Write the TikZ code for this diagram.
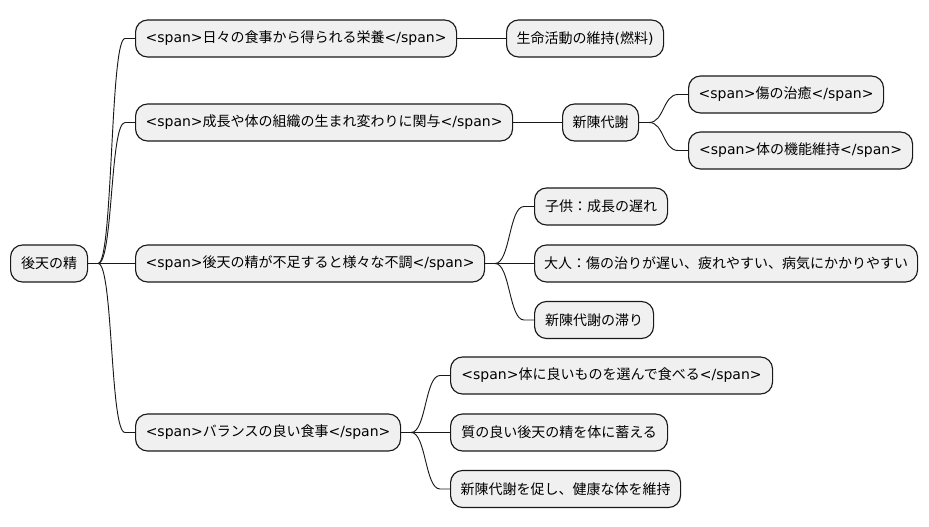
\documentclass[tikz,border=0pt]{standalone}
\usepackage{fontspec}
\setmainfont{Noto Sans CJK JP}
\newfontfamily\latf{DejaVu Sans}
\newcommand\sO{{\latf <span>}}
\newcommand\sC{{\latf </span>}}
\usetikzlibrary{calc}
\tikzset{
  mmbox/.style={draw=black!90, fill=black!6, line width=0.85pt, rounded corners=9pt,
    minimum height=27.75pt, inner sep=0pt, anchor=west, font=\fontsize{10.5pt}{12pt}\selectfont},
  link/.style={draw=black!90, line width=0.7pt}
}
\newcommand\mmlink[2]{\draw[link] (#1.east) -- ++(10,0) .. controls +(15,0) and +(-15,0) .. ($(#2.west)+(-10,0)$) -- (#2.west);}
\begin{document}
\begin{tikzpicture}[x=0.75pt,y=-0.75pt]
\useasboundingbox (0,0) rectangle (929,527);
\node[mmbox, minimum width=57.75pt] (root) at (10,263.5) {後天の精};
\node[mmbox, minimum width=240.75pt] (a) at (135,38.5) {\sO 日々の食事から得られる栄養\sC};
\node[mmbox, minimum width=282.75pt] (b) at (135,122.5) {\sO 成長や体の組織の生まれ変わりに関与\sC};
\node[mmbox, minimum width=261.75pt] (c) at (135,263.5) {\sO 後天の精が不足すると様々な不調\sC};
\node[mmbox, minimum width=198.75pt] (d) at (135,432.5) {\sO バランスの良い食事\sC};
\node[mmbox, minimum width=117.75pt] (a1) at (506,38.5) {生命活動の維持{\latf (}燃料{\latf )}};
\node[mmbox, minimum width=57pt] (b1) at (562,122.5) {新陳代謝};
\node[mmbox, minimum width=146.25pt] (b1a) at (688,94.5) {\sO 傷の治癒\sC};
\node[mmbox, minimum width=168pt] (b1b) at (688,150.5) {\sO 体の機能維持\sC};
\node[mmbox, minimum width=99.75pt] (c1) at (534,206.5) {子供：成長の遅れ};
\node[mmbox, minimum width=287.25pt] (c2) at (534,263.5) {大人：傷の治りが遅い、疲れやすい、病気にかかりやすい};
\node[mmbox, minimum width=89.25pt] (c3) at (534,320) {新陳代謝の滞り};
\node[mmbox, minimum width=241.5pt] (d1) at (450,375.5) {\sO 体に良いものを選んで食べる\sC};
\node[mmbox, minimum width=162.75pt] (d2) at (450,432.5) {質の良い後天の精を体に蓄える};
\node[mmbox, minimum width=172.5pt] (d3) at (450,489) {新陳代謝を促し、健康な体を維持};
\mmlink{root}{a}
\mmlink{root}{b}
\mmlink{root}{c}
\mmlink{root}{d}
\mmlink{a}{a1}
\mmlink{b}{b1}
\mmlink{b1}{b1a}
\mmlink{b1}{b1b}
\mmlink{c}{c1}
\mmlink{c}{c2}
\mmlink{c}{c3}
\mmlink{d}{d1}
\mmlink{d}{d2}
\mmlink{d}{d3}
\end{tikzpicture}
\end{document}
